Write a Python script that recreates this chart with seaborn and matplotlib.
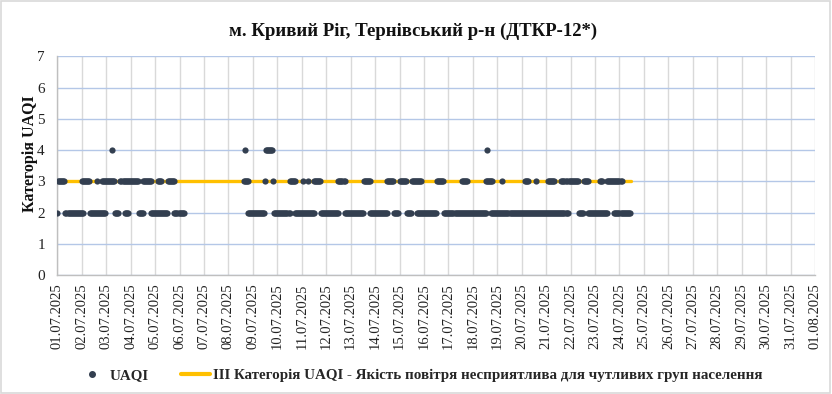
import matplotlib
matplotlib.use("Agg")
import matplotlib.dates as mdates
import matplotlib.pyplot as plt
import numpy as np
import pandas as pd
import seaborn as sns
from matplotlib.font_manager import FontProperties
from matplotlib.lines import Line2D
from matplotlib.patches import Rectangle

# Годинні спостереження: відрізки (початок, кінець) у годинах від 01.07.2025 00:00
START = pd.Timestamp("2025-07-01 00:00")
END = pd.Timestamp("2025-08-01 00:00")

runs_cat2 = [(0, 0), (8, 25), (32, 47), (57, 60), (66, 69), (80, 84), (92, 108),
             (115, 124), (187, 203), (213, 228), (233, 252), (259, 276), (282, 300),
             (307, 324), (331, 335), (343, 347), (353, 372), (380, 421), (426, 501),
             (512, 516), (521, 540), (547, 562)]
runs_cat3 = [(1, 7), (24, 31), (39, 39), (44, 56), (62, 79), (84, 92), (99, 102),
             (109, 115), (183, 187), (204, 204), (212, 212), (228, 233), (241, 241),
             (246, 246), (252, 258), (276, 282), (301, 307), (324, 330), (336, 342),
             (348, 357), (373, 379), (397, 402), (421, 427), (437, 437), (459, 462),
             (470, 470), (482, 488), (495, 500), (502, 511), (517, 521), (533, 535),
             (540, 554)]
runs_cat4 = [(54, 54), (184, 184), (205, 211), (422, 422)]

threshold_value = 3
threshold_hours = [0, 563]

title = "м. Кривий Ріг, Тернівський р-н (ДТКР-12*)"
ylabel = "Категорія UAQI"
legend_labels = ["UAQI",
                 "ІІІ Категорія UAQI - Якість повітря несприятлива для чутливих груп населення"]

NAVY = "#333f50"
GOLD = "#ffc000"


def expand(runs, value):
    rows = []
    for h0, h1 in runs:
        for h in range(h0, h1 + 1):
            rows.append({"time": START + pd.Timedelta(hours=h), "uaqi": value})
    return rows


df = pd.DataFrame(expand(runs_cat2, 2) + expand(runs_cat3, 3) + expand(runs_cat4, 4))
thr = pd.DataFrame({"time": [START + pd.Timedelta(hours=h) for h in threshold_hours],
                    "uaqi": [threshold_value] * len(threshold_hours)})

sns.set_theme(style="white")
plt.rcParams["font.family"] = ["Liberation Serif", "DejaVu Serif"]

fig = plt.figure(figsize=(8.32, 3.94), dpi=100)
ax = fig.add_axes([0.0689, 0.302, 0.9107, 0.5546])

sns.lineplot(data=thr, x="time", y="uaqi", color=GOLD, lw=2.4, ax=ax, zorder=2)
sns.scatterplot(data=df, x="time", y="uaqi", color=NAVY, s=20, linewidth=0,
                ax=ax, zorder=3)

ax.set_xlim(START, END)
ax.set_ylim(0, 7)
ax.set_yticks(np.arange(0, 8))
ax.xaxis.set_major_locator(mdates.DayLocator())
ax.xaxis.set_major_formatter(mdates.DateFormatter("%d.%m.%Y"))
ax.tick_params(axis="x", rotation=90, labelsize=10.5, length=0, pad=6, colors="#222222")
ax.tick_params(axis="y", labelsize=11, length=0, pad=9, colors="#222222")

ax.set_axisbelow(True)
ax.yaxis.grid(True, color="#b4c7e7", lw=1)
ax.xaxis.grid(True, color="#d9d9d9", lw=1)
for side in ["top", "right"]:
    ax.spines[side].set_visible(False)
for side in ["left", "bottom"]:
    ax.spines[side].set_color("#bfbfbf")
    ax.spines[side].set_linewidth(1)

ax.set_xlabel("")
ax.set_ylabel(ylabel, fontsize=11.5, fontweight="bold", color="#111111")
ax.yaxis.set_label_coords(-0.025, 0.556)

fig.text(0.496, 1 - 31 / 394, title, ha="center", va="center",
         fontsize=13.5, fontweight="bold", color="#111111")

handles = [Line2D([], [], marker="o", ls="", color=NAVY, markersize=4),
           Line2D([], [], color=GOLD, lw=3)]
fig.legend(handles, legend_labels, loc="center", bbox_to_anchor=(0.505, 0.048),
           ncol=2, frameon=False, handlelength=1.9, handletextpad=0.2,
           columnspacing=2.2,
           prop=FontProperties(family="Liberation Serif", weight="bold", size=10.8))

fig.patches.append(Rectangle((0.001, 0.002), 0.997, 0.995, transform=fig.transFigure,
                             fill=False, ec="#d9d9d9", lw=1.2))

fig.savefig("out.png", dpi=100, facecolor="white")
